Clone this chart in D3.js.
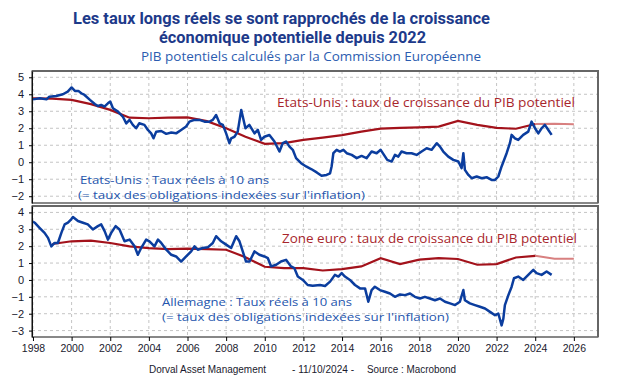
<!DOCTYPE html>
<html><head><meta charset="utf-8">
<script src="https://cdn.jsdelivr.net/npm/d3@7"></script>
<style>
html,body{margin:0;padding:0;background:#fff;}
svg{display:block;}
</style></head>
<body>
<svg id="chart" width="621" height="380"></svg>
<script>
// ---------- DATA ----------
const yearTicks = [1998,2000,2002,2004,2006,2008,2010,2012,2014,2016,2018,2020,2022,2024,2026];
const topTicks = [5,4,3,2,1,0,-1,-2];
const bottomTicks = [4,3,2,1,0,-1,-2,-3];

const usReal = [[1998.0,3.7],[1998.35,3.76],[1998.7,3.7],[1998.85,3.86],[1999.2,3.9],[1999.55,4.0],[1999.8,4.16],[2000.0,4.4],[2000.17,4.2],[2000.35,4.2],[2000.5,4.06],[2000.67,3.96],[2000.95,3.67],[2001.2,3.43],[2001.36,3.31],[2001.53,3.37],[2001.7,3.27],[2001.88,3.47],[2002.0,3.57],[2002.14,3.18],[2002.4,2.98],[2002.65,2.69],[2002.83,2.29],[2003.0,2.49],[2003.17,2.2],[2003.34,2.0],[2003.5,2.29],[2003.77,2.2],[2003.95,1.9],[2004.12,1.7],[2004.24,1.41],[2004.38,1.8],[2004.64,1.84],[2004.9,1.67],[2005.16,1.75],[2005.41,1.7],[2005.67,1.9],[2005.93,2.1],[2006.1,2.39],[2006.36,2.49],[2006.62,2.49],[2006.88,2.39],[2007.14,2.39],[2007.31,2.49],[2007.48,2.78],[2007.66,2.29],[2007.83,2.2],[2008.0,1.7],[2008.17,1.12],[2008.26,1.41],[2008.43,1.5],[2008.6,1.8],[2008.78,3.08],[2008.86,2.69],[2009.0,2.0],[2009.2,2.2],[2009.47,1.7],[2009.64,1.9],[2009.81,1.31],[2009.98,1.5],[2010.24,1.6],[2010.5,1.22],[2010.76,0.63],[2010.93,1.12],[2011.1,1.22],[2011.28,0.92],[2011.45,0.73],[2011.62,0.24],[2011.88,-0.06],[2012.14,-0.25],[2012.4,-0.4],[2012.69,-0.6],[2012.94,-0.8],[2013.2,-0.75],[2013.38,-0.65],[2013.46,-0.25],[2013.55,0.53],[2013.72,0.73],[2013.89,0.63],[2014.07,0.73],[2014.24,0.53],[2014.5,0.43],[2014.76,0.24],[2015.01,0.37],[2015.27,0.24],[2015.53,0.63],[2015.79,0.53],[2016.0,0.73],[2016.17,0.43],[2016.34,0.14],[2016.57,0.04],[2016.74,0.43],[2016.91,0.33],[2017.08,0.63],[2017.34,0.53],[2017.6,0.53],[2017.86,0.43],[2018.12,0.63],[2018.38,0.82],[2018.64,0.73],[2018.9,1.12],[2019.07,0.92],[2019.24,0.63],[2019.5,0.33],[2019.76,0.14],[2020.02,0.04],[2020.19,-0.35],[2020.28,0.53],[2020.36,-0.45],[2020.54,-0.75],[2020.71,-0.94],[2020.97,-0.84],[2021.23,-0.94],[2021.48,-0.88],[2021.74,-1.04],[2021.92,-1.04],[2022.09,-0.84],[2022.26,-0.25],[2022.52,0.53],[2022.69,1.12],[2022.78,1.61],[2022.95,1.41],[2023.12,1.31],[2023.38,1.61],[2023.64,1.8],[2023.81,2.39],[2023.99,2.0],[2024.16,1.7],[2024.33,2.0],[2024.5,2.2],[2024.68,1.9],[2024.85,1.61]];

const usPotentialYears = [1998,1999,2000,2001,2002,2003,2004,2005,2006,2007,2008,2009,2010,2011,2012,2013,2014,2015,2016,2017,2018,2019,2020,2021,2022,2023,2024,2025,2026];
const usPotential = [3.76,3.74,3.67,3.42,3.08,2.62,2.59,2.62,2.64,2.42,2.0,1.5,1.08,1.12,1.32,1.45,1.6,1.8,1.98,2.02,2.05,2.1,2.43,2.2,2.02,1.97,2.25,2.27,2.24];

const deReal = [[1998.0,3.45],[1998.09,3.39],[1998.34,3.09],[1998.6,2.79],[1998.78,2.49],[1998.95,1.99],[1999.12,2.19],[1999.29,2.19],[1999.47,2.79],[1999.64,3.29],[1999.81,3.39],[1999.98,3.59],[2000.07,3.73],[2000.33,3.49],[2000.59,3.39],[2000.84,3.29],[2001.1,2.99],[2001.36,3.19],[2001.53,3.29],[2001.71,2.89],[2001.88,2.39],[2002.05,2.79],[2002.28,3.19],[2002.48,2.99],[2002.74,2.29],[2003.0,2.39],[2003.26,1.99],[2003.43,1.49],[2003.6,1.89],[2003.86,2.39],[2004.03,2.29],[2004.29,1.99],[2004.47,2.39],[2004.64,2.19],[2004.9,1.79],[2005.16,1.49],[2005.41,1.39],[2005.67,1.09],[2005.93,1.39],[2006.19,1.69],[2006.36,1.99],[2006.53,1.79],[2006.79,1.89],[2007.05,1.93],[2007.31,2.19],[2007.48,2.59],[2007.74,2.29],[2008.0,2.09],[2008.26,1.89],[2008.52,2.59],[2008.69,2.29],[2008.86,1.69],[2009.03,1.09],[2009.21,1.09],[2009.47,1.69],[2009.72,1.49],[2009.98,1.39],[2010.16,1.29],[2010.33,0.8],[2010.59,0.9],[2010.84,1.09],[2011.1,1.19],[2011.36,0.8],[2011.53,0.7],[2011.71,0.2],[2011.97,0.0],[2012.22,-0.3],[2012.48,-0.35],[2012.86,-0.3],[2013.12,-0.36],[2013.38,-0.1],[2013.63,0.3],[2013.81,0.2],[2013.98,0.4],[2014.15,0.2],[2014.41,0.0],[2014.67,-0.3],[2014.93,-0.5],[2015.19,-0.5],[2015.36,-1.29],[2015.53,-0.6],[2015.7,-0.4],[2015.96,-0.6],[2016.22,-0.7],[2016.48,-0.8],[2016.74,-1.0],[2017.0,-0.86],[2017.26,-0.9],[2017.52,-0.8],[2017.77,-1.0],[2018.03,-1.1],[2018.29,-1.0],[2018.55,-1.1],[2018.81,-1.2],[2019.07,-1.1],[2019.33,-1.29],[2019.59,-1.39],[2019.85,-1.49],[2020.1,-1.29],[2020.28,-0.6],[2020.36,-1.2],[2020.62,-1.39],[2020.88,-1.49],[2021.14,-1.59],[2021.4,-1.69],[2021.66,-1.89],[2021.92,-2.09],[2022.09,-1.99],[2022.26,-2.69],[2022.35,-2.29],[2022.43,-1.49],[2022.61,-0.9],[2022.78,-0.4],[2022.9,0.1],[2023.12,0.2],[2023.38,0.0],[2023.64,0.3],[2023.9,0.6],[2024.07,0.4],[2024.33,0.3],[2024.59,0.5],[2024.85,0.3]];

const euPotentialYears = [1999,2000,2001,2002,2003,2004,2005,2006,2007,2008,2009,2010,2011,2012,2013,2014,2015,2016,2017,2018,2019,2020,2021,2022,2023,2024,2025,2026];
const euPotential = [2.13,2.29,2.33,2.19,1.99,1.89,1.83,1.85,1.83,1.79,1.35,0.78,0.7,0.7,0.56,0.64,0.8,1.29,0.94,1.2,1.29,1.24,0.9,0.94,1.33,1.43,1.25,1.25];

const lastActualYear = 2024;

// ---------- LAYOUT ----------
const svg = d3.select("#chart");
const L = 32, R = 598;
const x = d3.scaleLinear().domain([1997.95, 2027.25]).range([L, R]);
const panels = [
  {top:71, bottom:203, domain:[-2.4,5.37], ticks:topTicks,
   real:usReal, potY:usPotentialYears, pot:usPotential},
  {top:206, bottom:337, domain:[-3.38,4.38], ticks:bottomTicks,
   real:deReal, potY:euPotentialYears, pot:euPotential}
];

const blue = "#0b3d9e", red = "#a3121b", redLight = "#d88080";
const gridColor = "#c4c4c4";

panels.forEach((p, i) => {
  const y = d3.scaleLinear().domain(p.domain).range([p.bottom, p.top]);
  p.y = y;
  const g = svg.append("g");
  // grid
  g.selectAll(".vg").data(yearTicks).enter().append("line")
    .attr("x1", d => x(d)).attr("x2", d => x(d))
    .attr("y1", p.top).attr("y2", p.bottom)
    .attr("stroke", gridColor).attr("stroke-dasharray", "3,3");
  g.selectAll(".hg").data(p.ticks).enter().append("line")
    .attr("x1", L).attr("x2", R)
    .attr("y1", d => y(d)).attr("y2", d => y(d))
    .attr("stroke", gridColor).attr("stroke-dasharray", "3,3");

  // potential growth line
  const potData = p.potY.map((yr, k) => [yr, p.pot[k]]);
  const line = d3.line().x(d => x(d[0])).y(d => y(d[1]));
  g.append("path").datum(potData.filter(d => d[0] >= lastActualYear))
    .attr("d", line).attr("fill", "none").attr("stroke", redLight).attr("stroke-width", 2);
  g.append("path").datum(potData.filter(d => d[0] <= lastActualYear))
    .attr("d", line).attr("fill", "none").attr("stroke", red).attr("stroke-width", 2.2);
  // real rate line
  g.append("path").datum(p.real)
    .attr("d", line).attr("fill", "none").attr("stroke", blue)
    .attr("stroke-width", 2.5).attr("stroke-linejoin", "round");

  // frame
  g.append("rect").attr("x", L).attr("y", p.top).attr("width", R - L).attr("height", p.bottom - p.top)
    .attr("fill", "none").attr("stroke", "#111").attr("stroke-width", 1);
  g.append("line").attr("x1", L).attr("x2", R + 1).attr("y1", p.top).attr("y2", p.top)
    .attr("stroke", "#666").attr("stroke-width", 2);
  g.append("line").attr("x1", R).attr("x2", R).attr("y1", p.top).attr("y2", p.bottom)
    .attr("stroke", "#666").attr("stroke-width", 2);

  // y axis
  const ax = g.append("g").attr("transform", `translate(${L},0)`)
    .call(d3.axisLeft(y).tickValues(p.ticks).tickSize(3).tickSizeOuter(0).tickPadding(5).tickFormat(d3.format("d")));
  ax.select(".domain").attr("stroke", "#111");
  ax.selectAll("text").attr("font-family", "'Liberation Sans', Arial, sans-serif")
    .attr("font-size", 11).attr("fill", "#1a1a2e");
});

// x axis
const xa = svg.append("g").attr("transform", `translate(0,${panels[1].bottom})`)
  .call(d3.axisBottom(x).tickValues(yearTicks).tickSize(4).tickSizeOuter(0).tickPadding(4).tickFormat(d3.format("d")));
xa.select(".domain").remove();
xa.selectAll("text").attr("font-family", "'Liberation Sans', Arial, sans-serif")
  .attr("font-size", 10.5).attr("fill", "#1a1a2e");

// ---------- TEXT ----------
const titleFont = "Roboto, 'Liberation Sans', sans-serif";
const roundFont = "'Open Sans', 'Noto Sans', sans-serif";
function txt(s, xx, yy, opt) {
  const t = svg.append("text").attr("x", xx).attr("y", yy).text(s)
    .attr("font-family", opt.font).attr("font-size", opt.size).attr("fill", opt.fill)
    .attr("font-weight", opt.weight || "normal");
  if (opt.anchor) t.attr("text-anchor", opt.anchor);
  if (opt.len) t.attr("textLength", opt.len).attr("lengthAdjust", "spacingAndGlyphs");
  return t;
}
const titleC = "#1d3a8a", subC = "#2b5cb0", redT = "#a8262c", blueT = "#2455ad";
txt("Les taux longs réels se sont rapprochés de la croissance", 73, 23.5, {font:titleFont, size:16, fill:titleC, weight:"bold", len:417});
txt("économique potentielle depuis 2022", 159, 42.5, {font:titleFont, size:16, fill:titleC, weight:"bold", len:267});
txt("PIB potentiels calculés par la Commission Européenne", 141, 61, {font:roundFont, size:12, fill:subC, len:340});

txt("Etats-Unis : taux de croissance du PIB potentiel", 277, 107, {font:roundFont, size:12, fill:redT, len:298});
txt("Etats-Unis : Taux réels à 10 ans", 80, 183.5, {font:roundFont, size:11, fill:blueT, len:189});
txt("(= taux des obligations indexées sur l'inflation)", 78, 198.5, {font:roundFont, size:11, fill:blueT, len:287});

txt("Zone euro : taux de croissance du PIB potentiel", 282, 243, {font:roundFont, size:12, fill:redT, len:295});
txt("Allemagne : Taux réels à 10 ans", 162, 306, {font:roundFont, size:11, fill:blueT, len:190});
txt("(= taux des obligations indexées sur l'inflation)", 162, 321, {font:roundFont, size:11, fill:blueT, len:287});

const footFont = "'Liberation Sans', Arial, sans-serif";
txt("Dorval Asset Management", 149, 373, {font:footFont, size:10, fill:"#1a1a2e", len:117});
txt("- 11/10/2024 -", 292, 373, {font:footFont, size:10, fill:"#1a1a2e", len:62});
txt("Source : Macrobond", 367, 373, {font:footFont, size:10, fill:"#1a1a2e", len:89});
</script>
</body></html>
